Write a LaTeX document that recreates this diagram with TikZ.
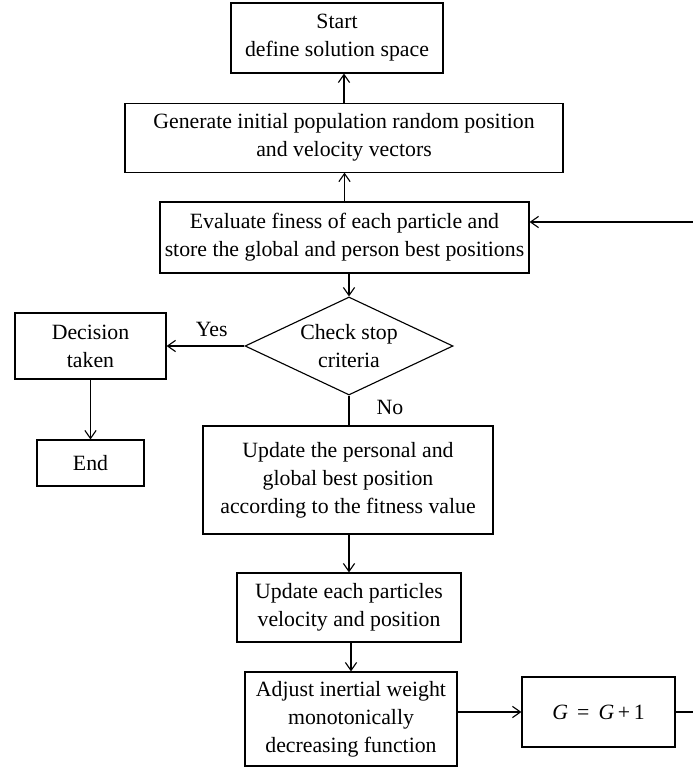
\documentclass[tikz,border=0pt]{standalone}
\usepackage{fontspec}
\setmainfont{Liberation Serif}
\usetikzlibrary{arrows.meta,shapes.geometric}

\begin{document}
\begin{tikzpicture}[
    font=\fontsize{15.5}{20}\selectfont,
    line width=0.8pt,
    >={Straight Barb[length=2mm,width=2.8mm]},
    stepbox/.style={draw, align=center, inner sep=0pt},
    testbox/.style={draw, diamond, aspect=2.12, align=center, inner sep=0pt}
  ]
            \useasboundingbox (0,0) rectangle (17.325,-19.225);

            % Start node
            \node[stepbox, minimum width=5.3cm, minimum height=1.75cm] (start) at (8.425,-0.95) {Start\\define solution space};

            % Initial population
            \node[stepbox, minimum width=10.95cm, minimum height=1.725cm] (init) at (8.6,-3.44) {Generate initial population random position\\and velocity vectors};
            \draw[->] (init.north) -- (init.north |- start.south);

            % Fitness evaluation
            \node[stepbox, minimum width=9.225cm, minimum height=1.775cm] (eval) at (8.6125,-5.9375) {Evaluate finess of each particle and\\store the global and person best positions};
            \draw[->] (eval.north) -- (eval.north |- init.south);

            % Stop test
            \node[testbox, minimum width=5.2cm, minimum height=2.45cm] (check) at (8.725,-8.65) {Check stop\\criteria};
            \draw[->] (check.north |- eval.south) -- (check.north);

            % Yes branch
            \node[stepbox, minimum width=3.775cm, minimum height=1.65cm] (decision) at (2.2625,-8.65) {Decision\\taken};
            \draw[->] (check.west) -- (decision.east) node[pos=0.42, above=3pt] (yes) {Yes};

            \node[stepbox, minimum width=2.675cm, minimum height=1.15cm] (end) at (2.2625,-11.575) {End};
            \draw[->] (decision.south) -- (end.north);

            % No branch
            \node[stepbox, minimum width=7.25cm, minimum height=2.7cm] (upbest) at (8.7,-12.0) {Update the personal and\\global best position\\according to the fitness value};
            \draw (check.south) -- (check.south |- upbest.north) node[pos=0.4, right=16pt] (no) {No};

            \node[stepbox, minimum width=5.6cm, minimum height=1.725cm] (upvel) at (8.725,-15.1875) {Update each particles\\velocity and position};
            \draw[->] (upbest.south -| upvel.north) -- (upvel.north);

            \node[stepbox, minimum width=5.3cm, minimum height=2.35cm] (adjust) at (8.775,-17.975) {Adjust inertial weight\\monotonically\\decreasing function};
            \draw[->] (adjust.north |- upvel.south) -- (adjust.north);

            % Iteration counter
            \node[stepbox, minimum width=3.825cm, minimum height=1.75cm] (incr) at (14.9625,-17.8) {{\itshape G}\, = \,{\itshape G}\,+\,1};
            \draw[->] (adjust.east |- incr.west) -- (incr.west);

            % Loop back to evaluation
            \coordinate (loop) at (17.6,-5.55);
            \draw[->] (incr.east) -| (loop) -- (loop -| eval.east);
\end{tikzpicture}
\end{document}
